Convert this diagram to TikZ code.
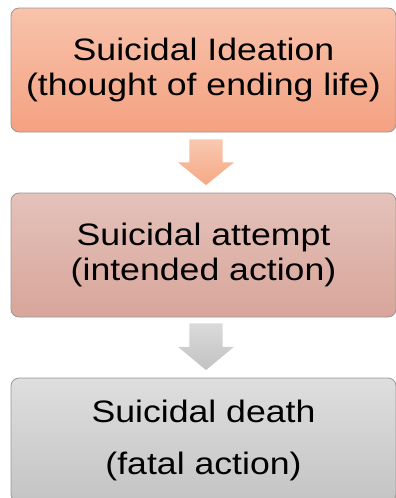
\documentclass[tikz,border=0pt]{standalone}
\usepackage{fontspec}
\setmainfont{Liberation Sans}[FakeStretch=1.15]
\usetikzlibrary{calc}
\definecolor{oneTop}{HTML}{F8C3AC}
\definecolor{oneBot}{HTML}{F4A181}
\definecolor{twoTop}{HTML}{E4C2BA}
\definecolor{twoBot}{HTML}{D8A59A}
\definecolor{thrTop}{HTML}{DEDEDE}
\definecolor{thrBot}{HTML}{C4C4C4}
\definecolor{edge}{HTML}{9C9694}
\definecolor{arOneTop}{HTML}{F9C8B0}
\definecolor{arOneBot}{HTML}{F5A985}
\definecolor{arTwoTop}{HTML}{DADADA}
\definecolor{arTwoBot}{HTML}{C2C2C2}
\tikzset{
  stagebox/.style={draw=edge, line width=0.8pt, rounded corners=8pt,
    minimum width=385pt, minimum height=124pt, inner sep=0pt,
    align=center, text=black, font=\fontsize{31pt}{35pt}\selectfont},
}
\begin{document}
\begin{tikzpicture}[x=1pt,y=-1pt]
\useasboundingbox (0,0) rectangle (396,498);
\node[stagebox, top color=oneTop, bottom color=oneBot] (b1) at (203.5,70)
  {Suicidal Ideation\\(thought of ending life)};
\node[stagebox, top color=twoTop, bottom color=twoBot] (b2) at (203.5,255)
  {Suicidal attempt\\(intended action)};
\node[stagebox, top color=thrTop, bottom color=thrBot] (b3) at (203.5,440)
  {Suicidal death\\[17pt](fatal action)};
% block arrows from box to box
\path (b1.south) ++(2.5,7) coordinate (a1s);
\path (b2.south) ++(2.5,6) coordinate (a2s);
\shade[top color=arOneTop, bottom color=arOneBot]
  (a1s) ++(-16.7,0) -- ++(33.4,0) -- ++(0,23) -- ++(11.3,0)
  -- ++(-28,22.7) -- ++(-28,-22.7) -- ++(11.3,0) -- cycle;
\shade[top color=arTwoTop, bottom color=arTwoBot]
  (a2s) ++(-16.7,0) -- ++(33.4,0) -- ++(0,23.4) -- ++(11.3,0)
  -- ++(-28,23.3) -- ++(-28,-23.3) -- ++(11.3,0) -- cycle;
\end{tikzpicture}
\end{document}
